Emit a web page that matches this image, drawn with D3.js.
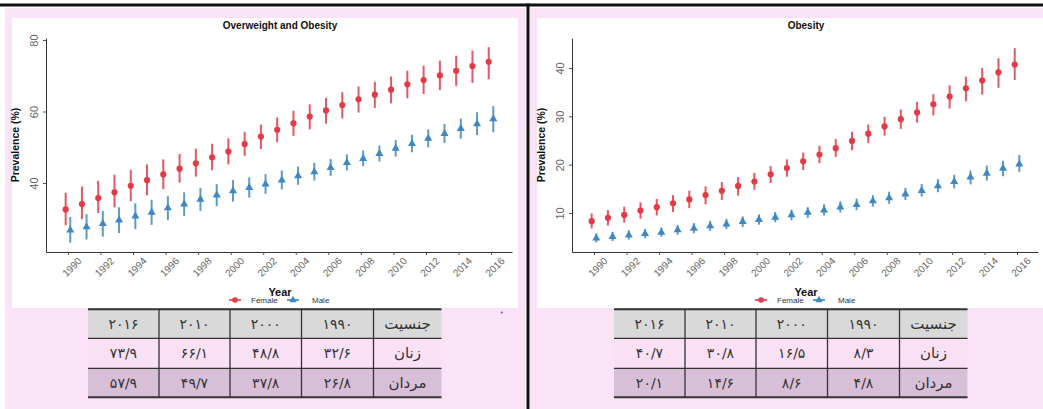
<!DOCTYPE html>
<html><head><meta charset="utf-8">
<script src="https://cdn.jsdelivr.net/npm/d3@7/dist/d3.min.js"></script>
<style>body{margin:0;background:#fff}svg{display:block}</style>
</head><body>
<svg id="c" width="1043" height="409"></svg>
<script>
// ---------- data ----------
const years = [1990,1991,1992,1993,1994,1995,1996,1997,1998,1999,2000,2001,2002,2003,2004,2005,2006,2007,2008,2009,2010,2011,2012,2013,2014,2015,2016];
const xTickYears = [1990,1992,1994,1996,1998,2000,2002,2004,2006,2008,2010,2012,2014,2016];

const owTitle = "Overweight and Obesity";
const owTicks = [40,60,80];
const owFemale   = [32.6,34.1,35.8,37.4,39.2,40.8,42.4,44.0,45.5,47.2,48.8,50.9,53.0,54.9,56.7,58.6,60.3,61.8,63.4,64.7,66.1,67.6,68.8,70.1,71.4,72.7,73.9];
const owFemaleLo = [28.2,29.9,31.6,33.2,34.9,36.6,38.3,40.1,41.8,43.6,45.2,47.6,49.5,51.4,53.2,55.0,56.6,58.1,59.7,61.0,62.3,63.7,64.9,66.0,67.2,68.0,69.0];
const owFemaleHi = [37.3,39.0,40.6,42.3,43.7,45.2,46.6,48.1,49.6,51.0,52.5,54.3,56.3,58.3,60.2,62.0,63.8,65.4,67.0,68.3,69.8,71.4,72.8,74.2,75.6,77.0,78.0];
const owMale     = [26.8,27.7,28.6,29.6,30.7,31.8,33.0,34.1,35.4,36.6,37.8,38.7,39.7,40.8,42.0,43.1,44.3,45.7,46.8,48.2,49.7,51.0,52.5,53.8,55.2,56.5,57.9];
const owMaleLo   = [23.3,24.2,25.0,26.0,27.1,28.3,29.6,30.8,32.2,33.5,34.8,35.9,37.0,38.2,39.5,40.7,42.0,43.5,44.7,46.0,47.4,48.6,50.0,51.2,52.4,53.4,54.2];
const owMaleHi   = [30.5,31.3,32.2,33.2,34.3,35.3,36.3,37.4,38.6,39.7,40.8,41.6,42.5,43.5,44.6,45.6,46.7,48.0,49.1,50.5,52.0,53.5,55.0,56.5,58.0,59.8,61.5];

const obTitle = "Obesity";
const obTicks = [10,20,30,40];
const obFemale   = [8.3,9.0,9.6,10.5,11.2,12.0,12.8,13.7,14.6,15.6,16.5,18.0,19.3,20.7,22.1,23.4,24.9,26.4,27.9,29.4,30.8,32.5,34.1,35.8,37.4,39.1,40.7];
const obFemaleLo = [6.8,7.4,8.0,8.8,9.5,10.2,11.0,11.8,12.7,13.6,14.8,16.2,17.5,18.9,20.3,21.6,23.0,24.5,26.0,27.4,28.7,30.2,31.6,33.1,34.5,35.9,37.5];
const obFemaleHi = [9.9,10.6,11.3,12.2,12.9,13.7,14.6,15.5,16.4,17.4,18.3,19.7,21.1,22.5,23.9,25.3,26.8,28.3,29.9,31.4,33.0,34.6,36.4,38.2,40.0,42.0,44.1];
const obMale     = [4.8,5.1,5.4,5.7,6.0,6.5,6.8,7.3,7.7,8.2,8.6,9.1,9.6,10.1,10.6,11.2,11.7,12.5,13.1,13.9,14.6,15.6,16.5,17.4,18.2,19.2,20.1];
const obMaleLo   = [3.9,4.2,4.5,4.8,5.1,5.5,5.8,6.3,6.7,7.1,7.6,8.1,8.5,9.0,9.5,10.1,10.6,11.3,11.9,12.7,13.4,14.3,15.1,15.9,16.7,17.6,18.5];
const obMaleHi   = [5.8,6.1,6.4,6.7,7.0,7.5,7.9,8.4,8.8,9.3,9.7,10.2,10.7,11.2,11.8,12.4,13.0,13.7,14.4,15.2,16.0,17.0,17.9,18.8,19.8,20.8,22.0];

const seriesNames = ["Female","Male"];
const xLabel = "Year";
const yLabel = "Prevalence (%)";

// table data
const tableHeadLabel = "جنسیت";
const tableYears = [1990,2000,2010,2016];
const tableRowLabels = ["زنان","مردان"];
const owTableFemale = [32.6,48.8,66.1,73.9];
const owTableMale   = [26.8,37.8,49.7,57.9];
const obTableFemale = [8.3,16.5,30.8,40.7];
const obTableMale   = [4.8,8.6,14.6,20.1];

// ---------- helpers ----------
const fa = "۰۱۲۳۴۵۶۷۸۹";
function toFa(v){ return String(v).replace(/\d/g, d => fa[+d]).replace(".", "/"); }

const RED = "#e23a47", BLUE = "#3f88c3";
const PINK = "#fae3f6";
const svg = d3.select("#c");
svg.append("rect").attr("width",1043).attr("height",409).attr("fill","#fff");

// panels background
svg.append("rect").attr("x",5).attr("y",8).attr("width",520).attr("height",401).attr("fill",PINK);
svg.append("rect").attr("x",530).attr("y",8).attr("width",513).attr("height",401).attr("fill",PINK);
svg.append("rect").attr("x",12).attr("y",18).attr("width",506).attr("height",290).attr("fill","#fff");
svg.append("rect").attr("x",537).attr("y",18).attr("width",506).attr("height",290).attr("fill","#fff");
// dividers
svg.append("rect").attr("x",0).attr("y",3.5).attr("width",1043).attr("height",3).attr("fill","#111");
svg.append("rect").attr("x",526.5).attr("y",3.5).attr("width",3).attr("height",406).attr("fill","#111");
svg.append("circle").attr("cx",501.7).attr("cy",312.5).attr("r",1).attr("fill","#5a4fc0");

function drawChart(cfg){
  const ox = cfg.ox;
  const g = svg.append("g");
  const x = d3.scaleLinear().domain([1988.65, 2017.29]).range([ox, ox+466]);
  const y = d3.scaleLinear().domain(cfg.yDomain).range([252, 38]);

  // x axis
  const xa = g.append("g").attr("transform","translate(0,252)")
    .call(d3.axisBottom(x).tickValues(xTickYears).tickFormat(d3.format("d")).tickSize(3).tickSizeOuter(0));
  xa.select(".domain").attr("stroke","#333").attr("stroke-width",1);
  xa.selectAll(".tick line").attr("stroke","#555");
  xa.selectAll(".tick text")
    .attr("y",0).attr("dy",0).attr("x",0)
    .attr("transform","translate(3.5,15) rotate(-45)")
    .attr("text-anchor","middle").attr("dominant-baseline","central")
    .attr("fill","#666").style("font","10px 'Liberation Sans', Arial, sans-serif");

  // y axis
  const ya = g.append("g").attr("transform",`translate(${ox},0)`)
    .call(d3.axisLeft(y).tickValues(cfg.yTicks).tickSize(3).tickSizeOuter(0));
  ya.select(".domain").attr("stroke","#333").attr("stroke-width",1);
  ya.selectAll(".tick line").attr("stroke","#555");
  ya.selectAll(".tick text")
    .attr("x",0).attr("y",-8).attr("dy",0)
    .attr("transform","rotate(-90)")
    .attr("text-anchor","middle")
    .attr("fill","#666").style("font","11px 'Liberation Sans', Arial, sans-serif");

  // title / labels
  g.append("text").attr("x",ox+234).attr("y",29).attr("text-anchor","middle")
    .style("font","bold 10px 'Liberation Sans', Arial, sans-serif").attr("fill","#111").text(cfg.title);
  g.append("text").attr("transform",`translate(${ox-27},145) rotate(-90)`).attr("text-anchor","middle")
    .style("font","bold 10.5px 'Liberation Sans', Arial, sans-serif").attr("fill","#111").text(yLabel);
  g.append("text").attr("x",ox+234).attr("y",296).attr("text-anchor","middle")
    .style("font","bold 11px 'Liberation Sans', Arial, sans-serif").attr("fill","#111").text(xLabel);

  const series = [
    {name:seriesNames[0], v:cfg.f, lo:cfg.fLo, hi:cfg.fHi, color:RED, dx:-2.3, shape:"circle"},
    {name:seriesNames[1], v:cfg.m, lo:cfg.mLo, hi:cfg.mHi, color:BLUE, dx:2.3, shape:"tri"}
  ];
  const tri = d3.symbol().type(d3.symbolTriangle).size(28);
  series.forEach(s => {
    const sg = g.append("g");
    sg.selectAll("line.eb").data(years).join("line").attr("class","eb")
      .attr("x1",(d,i)=>x(d)+s.dx).attr("x2",(d,i)=>x(d)+s.dx)
      .attr("y1",(d,i)=>y(s.lo[i])).attr("y2",(d,i)=>y(s.hi[i]))
      .attr("stroke",s.color).attr("stroke-width",2).attr("stroke-opacity",0.85);
    if(s.shape==="circle"){
      sg.selectAll("circle.pt").data(years).join("circle").attr("class","pt")
        .attr("cx",(d)=>x(d)+s.dx).attr("cy",(d,i)=>y(s.v[i])).attr("r",3.1).attr("fill",s.color);
    } else {
      sg.selectAll("path.pt").data(years).join("path").attr("class","pt")
        .attr("d",tri).attr("transform",(d,i)=>`translate(${x(d)+s.dx},${y(s.v[i])})`).attr("fill",s.color);
    }
  });

  // legend
  const leg = g.append("g").style("font","8px 'Liberation Sans', Arial, sans-serif");
  const lx = [ox+189, ox+247], tx = [ox+205, ox+266];
  series.forEach((s,k)=>{
    leg.append("line").attr("x1",lx[k]-6).attr("x2",lx[k]+6).attr("y1",300).attr("y2",300)
      .attr("stroke",s.color).attr("stroke-width",1.6);
    if(s.shape==="circle") leg.append("circle").attr("cx",lx[k]).attr("cy",300).attr("r",2.8).attr("fill",s.color);
    else leg.append("path").attr("d",d3.symbol().type(d3.symbolTriangle).size(24)).attr("transform",`translate(${lx[k]},300)`).attr("fill",s.color);
    leg.append("text").attr("x",tx[k]).attr("y",303).attr("fill","#333").text(s.name);
  });

  // table
  const tx0 = ox+42;
  const colW = [71,71,71.5,72,68];
  const rowY = [309.3, 338.3, 368.3, 397.3];
  const rowFill = ["#d9d9d9", "#f9e0f4", "#d8bfd8"];
  const colX = [tx0]; colW.forEach((w,i)=>colX.push(colX[i]+w));
  const tg = g.append("g");
  const rows = [
    [...tableYears.slice().reverse().map(toFa), tableHeadLabel],
    [...cfg.tf.slice().reverse().map(toFa), tableRowLabels[0]],
    [...cfg.tm.slice().reverse().map(toFa), tableRowLabels[1]]
  ];
  rows.forEach((r,ri)=>{
    tg.append("rect").attr("x",tx0).attr("y",rowY[ri]).attr("width",colX[5]-tx0).attr("height",rowY[ri+1]-rowY[ri]).attr("fill",rowFill[ri]);
    r.forEach((t,ci)=>{
      tg.append("text").attr("x",(colX[ci]+colX[ci+1])/2).attr("y",(rowY[ri]+rowY[ri+1])/2+5)
        .attr("text-anchor","middle").attr("fill","#333")
        .style("font", ci===4 ? "15px 'DejaVu Sans', sans-serif" : "14px 'DejaVu Sans', sans-serif")
        .attr("direction", ci===4 ? "rtl" : "ltr")
        .text(t);
    });
  });
  colX.slice(1,5).forEach(cx=>{
    tg.append("line").attr("x1",cx).attr("x2",cx).attr("y1",rowY[0]).attr("y2",rowY[3]).attr("stroke","#333").attr("stroke-width",1.3);
  });
  rowY.forEach((ry,k)=>{
    tg.append("line").attr("x1",tx0).attr("x2",colX[5]).attr("y1",ry).attr("y2",ry)
      .attr("stroke", "#333").attr("stroke-width", (k===0||k===3)?2:1.3);
  });
}

drawChart({ox:46, title:owTitle, yDomain:[20.7,80.56], yTicks:owTicks,
  f:owFemale,fLo:owFemaleLo,fHi:owFemaleHi,m:owMale,mLo:owMaleLo,mHi:owMaleHi,
  tf:owTableFemale, tm:owTableMale});
drawChart({ox:572, title:obTitle, yDomain:[1.93,46.2], yTicks:obTicks,
  f:obFemale,fLo:obFemaleLo,fHi:obFemaleHi,m:obMale,mLo:obMaleLo,mHi:obMaleHi,
  tf:obTableFemale, tm:obTableMale});
</script>
</body></html>
